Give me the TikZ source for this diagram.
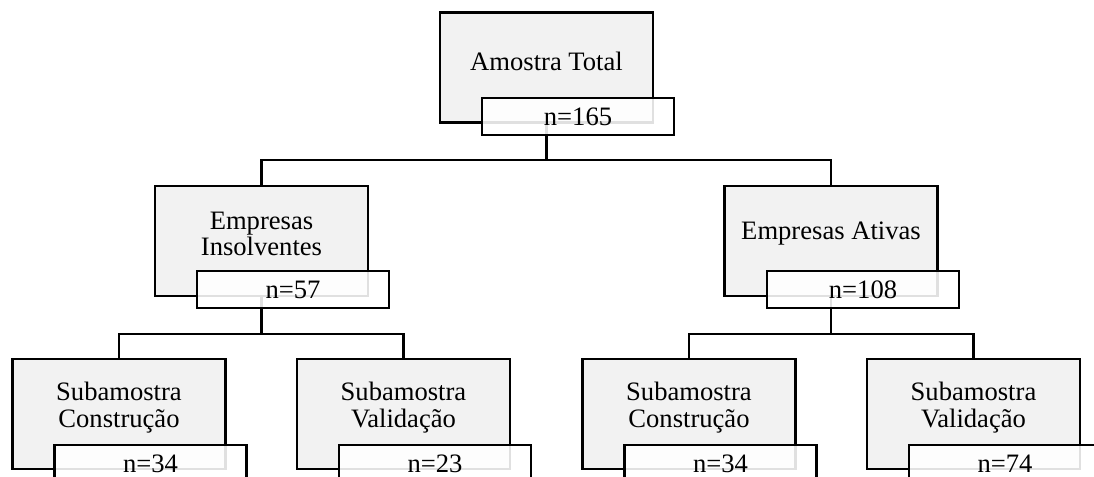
\documentclass[tikz,border=0pt]{standalone}
\usepackage{fontspec}
\setmainfont{Liberation Serif}
\definecolor{cinza}{HTML}{F2F2F2}
\tikzset{
  grupo/.style={draw,line width=1.25pt,fill=cinza,minimum width=106.5pt,minimum height=55pt,inner sep=0pt},
  contagem/.style={draw,line width=1.25pt,fill=white,fill opacity=.88,text opacity=1,minimum width=96pt,minimum height=18.5pt,inner sep=0pt,font=\fontsize{13.3}{13.4}\selectfont},
  rotulo/.style={align=center,inner sep=0pt,font=\fontsize{13.3}{13.4}\selectfont},
  ligacao/.style={line width=1.25pt}
}
\begin{document}
\begin{tikzpicture}[x=0.5pt,y=-0.5pt]
  \clip (0,0) rectangle (1094,477);

  % caixas cinzentas
  \node[grupo] (total) at (546.5,67.5) {};
  \node[grupo] (insolv) at (261.5,241) {};
  \node[grupo] (ativas) at (831,241) {};
  \node[grupo] (constrA) at (119,414) {};
  \node[grupo] (validA) at (403.5,414) {};
  \node[grupo] (constrB) at (689,414) {};
  \node[grupo] (validB) at (973.5,414) {};

  \node[rotulo] at ([yshift=3pt]total.center) {Amostra Total};
  \node[rotulo] at ([yshift=3.5pt]insolv.center) {Empresas\\Insolventes};
  \node[rotulo] at ([yshift=3.5pt]ativas.center) {Empresas Ativas};
  \node[rotulo] at ([yshift=3.25pt]constrA.center) {Subamostra\\Construção};
  \node[rotulo] at ([yshift=3.25pt]validA.center) {Subamostra\\Validação};
  \node[rotulo] at ([yshift=3.25pt]constrB.center) {Subamostra\\Construção};
  \node[rotulo] at ([yshift=3.25pt]validB.center) {Subamostra\\Validação};

  % ligacoes
  \coordinate (j1) at (546.5,160);
  \coordinate (j2) at (261.5,334);
  \coordinate (j3) at (831,334);
  \draw[ligacao] (total.south) -- (j1);
  \draw[ligacao] (insolv.north) |- (j1) -| (ativas.north);
  \draw[ligacao] (insolv.south) -- (j2);
  \draw[ligacao] (constrA.north) |- (j2) -| (validA.north);
  \draw[ligacao] (ativas.south) -- (j3);
  \draw[ligacao] (constrB.north) |- (j3) -| (validB.north);

  % caixas brancas
  \node[contagem] (nTotal) at (578,116.5) {n=165};
  \node[contagem] (nInsolv) at (293,289.5) {n=57};
  \node[contagem] (nAtivas) at (863,289.5) {n=108};
  \node[contagem] (nConstrA) at (150.5,463.5) {n=34};
  \node[contagem] (nValidA) at (435,463.5) {n=23};
  \node[contagem] (nConstrB) at (720.5,463.5) {n=34};
  \node[contagem] (nValidB) at (1005,463.5) {n=74};
\end{tikzpicture}
\end{document}
